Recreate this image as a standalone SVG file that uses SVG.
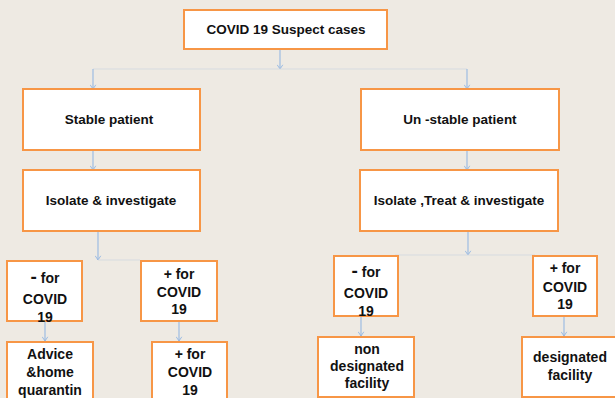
<svg xmlns="http://www.w3.org/2000/svg" width="615" height="398" viewBox="0 0 615 398">
<defs>
<style>
.box{fill:#fff;stroke:#f79646;stroke-width:2}
.t{font-family:"Liberation Sans",Arial,sans-serif;font-weight:bold;fill:#111;text-anchor:middle}
.m{font-size:13.5px}
.s{font-size:14px}
.c{fill:none;stroke:#8db3e2;stroke-width:1}
.f{fill:none;stroke:#d6dbe0;stroke-width:1}
.big{font-size:19px}
</style>
<marker id="ah" viewBox="0 0 10 10" refX="5" refY="9" markerWidth="7" markerHeight="7" orient="auto-start-reverse" markerUnits="userSpaceOnUse">
<path d="M1,3 L5,9 L9,3" fill="none" stroke="#8db3e2" stroke-width="1.2"/>
</marker>
<marker id="av" viewBox="0 0 10 10" refX="5" refY="9" markerWidth="7" markerHeight="7" orient="0" markerUnits="userSpaceOnUse">
<path d="M1,3 L5,9 L9,3" fill="none" stroke="#8db3e2" stroke-width="1.2"/>
</marker>
</defs>
<rect width="615" height="398" fill="#eeeae3"/>
<g id="connectors">
<path class="c" d="M280,49 V69" marker-end="url(#av)"/>
<path class="f" d="M93,69 H467"/>
<path class="c" d="M93,69 V89" marker-end="url(#av)"/>
<path class="c" d="M467,69 V89" marker-end="url(#av)"/>
<path class="c" d="M93,150 V170" marker-end="url(#av)"/>
<path class="c" d="M467,150 V170" marker-end="url(#av)"/>
<path class="c" d="M98,231 V260" marker-end="url(#av)"/>
<path class="f" d="M98,260 H140"/>
<path class="c" d="M468,231 V255" marker-end="url(#av)"/>
<path class="f" d="M395,255 H535"/>
<path class="c" d="M45,321 V341" marker-end="url(#av)"/>
<path class="c" d="M179,321 V341" marker-end="url(#av)"/>
<path class="c" d="M361,316 V336" marker-end="url(#av)"/>
<path class="c" d="M564,316 V336" marker-end="url(#av)"/>
</g>
<g id="suspect">
<rect class="box" x="184" y="10" width="203" height="39"/>
<text class="t m" x="286" y="34">COVID 19 Suspect cases</text>
</g>
<g id="stable">
<rect class="box" x="23" y="89" width="177" height="61"/>
<text class="t m" x="109" y="124">Stable patient</text>
</g>
<g id="unstable">
<rect class="box" x="361" y="89" width="198" height="61"/>
<text class="t m" x="460" y="124">Un -stable patient</text>
</g>
<g id="isolate">
<rect class="box" x="23" y="170" width="177" height="61"/>
<text class="t m" x="111" y="205">Isolate &amp; investigate</text>
</g>
<g id="isolate-treat">
<rect class="box" x="360" y="170" width="198" height="61"/>
<text class="t m" x="459" y="205">Isolate ,Treat &amp; investigate</text>
</g>
<g id="neg-left">
<rect class="box" x="7" y="261" width="75" height="60"/>
<text class="t s" x="45" y="283"><tspan class="big">-</tspan> for</text>
<text class="t s" x="45" y="304">COVID</text>
<text class="t s" x="45" y="322">19</text>
</g>
<g id="pos-left">
<rect class="box" x="141" y="261" width="76" height="60"/>
<text class="t s" x="179" y="279">+ for</text>
<text class="t s" x="179" y="297">COVID</text>
<text class="t s" x="179" y="314">19</text>
</g>
<g id="advice">
<rect class="box" x="7" y="342" width="86" height="66"/>
<text class="t s" x="50" y="359">Advice</text>
<text class="t s" x="50" y="377">&amp;home</text>
<text class="t s" x="50" y="395">quarantin</text>
</g>
<g id="pos-left-2">
<rect class="box" x="152" y="342" width="75" height="66"/>
<text class="t s" x="190" y="359">+ for</text>
<text class="t s" x="190" y="377">COVID</text>
<text class="t s" x="190" y="395">19</text>
</g>
<g id="neg-right">
<rect class="box" x="334" y="256" width="64" height="60"/>
<text class="t s" x="366" y="277"><tspan class="big">-</tspan> for</text>
<text class="t s" x="366" y="298">COVID</text>
<text class="t s" x="366" y="316">19</text>
</g>
<g id="pos-right">
<rect class="box" x="533" y="256" width="64" height="60"/>
<text class="t s" x="565" y="273">+ for</text>
<text class="t s" x="565" y="292">COVID</text>
<text class="t s" x="565" y="309">19</text>
</g>
<g id="non-designated">
<rect class="box" x="318" y="337" width="96" height="60"/>
<text class="t s" x="367" y="354">non</text>
<text class="t s" x="367" y="371">designated</text>
<text class="t s" x="367" y="388">facility</text>
</g>
<g id="designated">
<rect class="box" x="522" y="337" width="96" height="60"/>
<text class="t s" x="570" y="362">designated</text>
<text class="t s" x="570" y="380">facility</text>
</g>
</svg>
